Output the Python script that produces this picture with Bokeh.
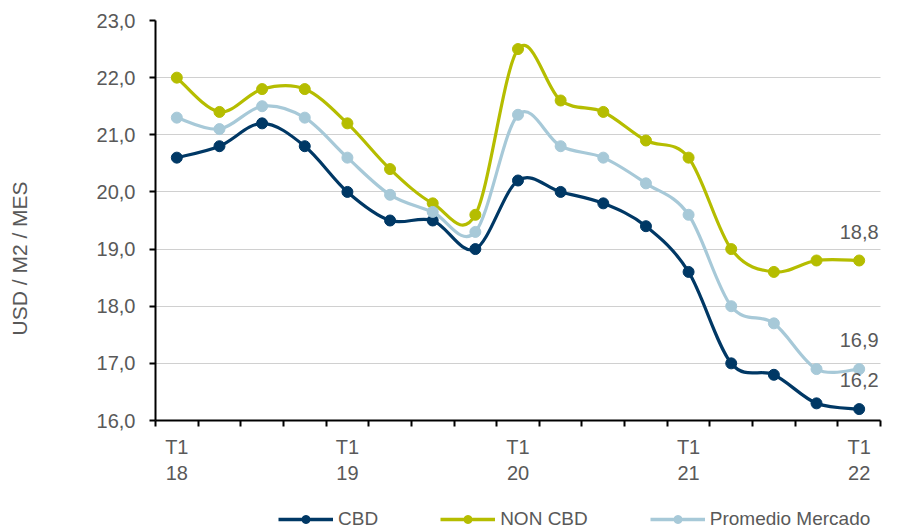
import numpy as np
from bokeh.plotting import figure
from bokeh.layouts import column
from bokeh.models import FixedTicker, Legend, LegendItem, Range1d, ColumnDataSource
from bokeh.embed import file_html
from bokeh.resources import INLINE
from bokeh.core.properties import value

quarters = ["T1 18", "T2 18", "T3 18", "T4 18",
            "T1 19", "T2 19", "T3 19", "T4 19",
            "T1 20", "T2 20", "T3 20", "T4 20",
            "T1 21", "T2 21", "T3 21", "T4 21",
            "T1 22"]
cbd = [20.6, 20.8, 21.2, 20.8, 20.0, 19.5, 19.5, 19.0, 20.2, 20.0, 19.8, 19.4, 18.6, 17.0, 16.8, 16.3, 16.2]
non_cbd = [22.0, 21.4, 21.8, 21.8, 21.2, 20.4, 19.8, 19.6, 22.5, 21.6, 21.4, 20.9, 20.6, 19.0, 18.6, 18.8, 18.8]
promedio = [21.3, 21.1, 21.5, 21.3, 20.6, 19.95, 19.65, 19.3, 21.35, 20.8, 20.6, 20.15, 19.6, 18.0, 17.7, 16.9, 16.9]
series_names = ["CBD", "NON CBD", "Promedio Mercado"]
y_ticks = [16, 17, 18, 19, 20, 21, 22, 23]
year_ticks = ["T1\n18", "T1\n19", "T1\n20", "T1\n21", "T1\n22"]
y_title = "USD / M2 / MES"

FONT = "Liberation Sans"
GRAY = "#595959"
colors = ["#003865", "#B5BD00", "#A7C9D8"]

x = np.arange(len(quarters)) + 0.5


def bezier_source(xs, ys):
    n = len(xs)
    d = dict(x0=[], y0=[], x1=[], y1=[], cx0=[], cy0=[], cx1=[], cy1=[])
    for i in range(n - 1):
        i0, i3 = max(i - 1, 0), min(i + 2, n - 1)
        d["x0"].append(xs[i]); d["y0"].append(ys[i])
        d["x1"].append(xs[i + 1]); d["y1"].append(ys[i + 1])
        d["cx0"].append(xs[i] + (xs[i + 1] - xs[i0]) / 6)
        d["cy0"].append(ys[i] + (ys[i + 1] - ys[i0]) / 6)
        d["cx1"].append(xs[i + 1] - (xs[i3] - xs[i]) / 6)
        d["cy1"].append(ys[i + 1] - (ys[i3] - ys[i]) / 6)
    return ColumnDataSource(d)


def fmt(v):
    return f"{v:.1f}".replace(".", ",")


p = figure(width=908, height=500, x_range=Range1d(0, len(quarters)), y_range=Range1d(16, 23),
           output_backend="svg", toolbar_location=None,
           min_border_left=155, min_border_right=28, min_border_top=20, min_border_bottom=80)
p.outline_line_color = None
p.background_fill_color = "white"

# axes
p.xaxis.ticker = FixedTicker(ticks=[float(x[i]) for i in range(0, len(quarters), 4)],
                             minor_ticks=list(range(len(quarters) + 1)))
p.xaxis.major_label_overrides = {float(x[i]): lab for i, lab in zip(range(0, len(quarters), 4), year_ticks)}
p.xaxis.major_tick_out = 0
p.xaxis.major_tick_in = 0
p.xaxis.minor_tick_out = 6
p.xaxis.minor_tick_in = 0
p.xaxis.minor_tick_line_width = 2
p.xaxis.minor_tick_line_color = "black"
p.xaxis.major_label_standoff = 9

p.yaxis.ticker = FixedTicker(ticks=y_ticks, minor_ticks=[])
p.yaxis.major_label_overrides = {t: fmt(t) for t in y_ticks}
p.yaxis.major_tick_out = 6
p.yaxis.major_tick_in = 0
p.yaxis.major_label_standoff = 14
# trailing no-break spaces move the visible title lower along the axis, as in the reference
p.yaxis.axis_label = y_title + "\u00a0" * 13
p.yaxis.axis_label_standoff = 63
p.yaxis.axis_label_text_font = FONT
p.yaxis.axis_label_text_font_size = "21px"
p.yaxis.axis_label_text_font_style = "normal"
p.yaxis.axis_label_text_color = GRAY

for ax in (p.xaxis, p.yaxis):
    ax.axis_line_width = 2
    ax.axis_line_color = "black"
    ax.major_tick_line_width = 2
    ax.major_tick_line_color = "black"
    ax.major_label_text_font = FONT
    ax.major_label_text_font_size = "20px"
    ax.major_label_text_color = GRAY

p.xgrid.visible = False
p.ygrid.grid_line_color = "#A0A0A0"
p.ygrid.grid_line_dash = "1 1"
p.ygrid.grid_line_width = 1

# legend strip below the chart
pl = figure(width=908, height=31, x_range=Range1d(0, 1), y_range=Range1d(0, 1),
            output_backend="svg", toolbar_location=None,
            x_axis_location=None, y_axis_location=None, min_border=0)
pl.outline_line_color = None
pl.xgrid.visible = False
pl.ygrid.visible = False

items = []
for name, ys, col in zip(series_names, [cbd, non_cbd, promedio], colors):
    src = bezier_source(list(x), ys)
    p.bezier("x0", "y0", "x1", "y1", "cx0", "cy0", "cx1", "cy1", source=src,
             line_color=col, line_width=3.2)
    p.scatter(x, ys, size=11, fill_color=col, line_color=col, marker="circle")
    # legend renderers: same series, outside the strip's visible range
    lr = pl.line(x, ys, line_color=col, line_width=3.6)
    sr = pl.scatter(x, ys, size=10, fill_color=col, line_color=col, marker="circle")
    items.append(LegendItem(label=name, renderers=[lr, sr]))

last_vals = [non_cbd[-1], promedio[-1], cbd[-1]]
p.text(x=[x[-1]] * 3, y=last_vals, text=[fmt(v) for v in last_vals],
       text_align="center", text_baseline="middle", y_offset=-29,
       text_font=value(FONT), text_font_size="20px", text_color=GRAY)

legend = Legend(items=items, orientation="horizontal", location=(123, 1),
                glyph_width=55, glyph_height=20, label_standoff=5, spacing=62, label_width=0,
                padding=0, margin=0, border_line_alpha=0, background_fill_alpha=0,
                label_text_font=FONT, label_text_font_size="19px", label_text_color=GRAY)
pl.add_layout(legend)

layout = column(p, pl, spacing=0)
open("out.html", "w").write(file_html(layout, INLINE))
